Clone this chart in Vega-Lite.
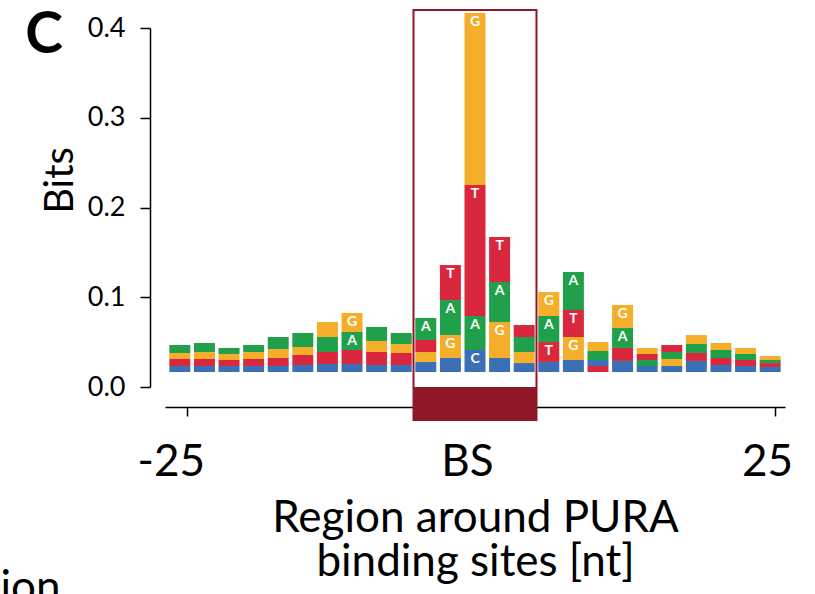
{
  "$schema": "https://vega.github.io/schema/vega-lite/v6.json",
  "width": 620,
  "height": 359,
  "autosize": {"type": "none"},
  "padding": {"left": 165, "top": 28, "right": 30, "bottom": 207},
  "config": {"font": "Lato", "view": {"stroke": null}},
  "datasets": {
    "logo": [
      {"p":1,"b":"C","lo":0.0167,"hi":0.0234},{"p":1,"b":"T","lo":0.0234,"hi":0.0312},{"p":1,"b":"G","lo":0.0312,"hi":0.0379},{"p":1,"b":"A","lo":0.0379,"hi":0.0468},
      {"p":2,"b":"C","lo":0.0167,"hi":0.0234},{"p":2,"b":"T","lo":0.0234,"hi":0.0312},{"p":2,"b":"G","lo":0.0312,"hi":0.0390},{"p":2,"b":"A","lo":0.0390,"hi":0.0490},
      {"p":3,"b":"C","lo":0.0167,"hi":0.0234},{"p":3,"b":"T","lo":0.0234,"hi":0.0301},{"p":3,"b":"G","lo":0.0301,"hi":0.0368},{"p":3,"b":"A","lo":0.0368,"hi":0.0435},
      {"p":4,"b":"C","lo":0.0167,"hi":0.0234},{"p":4,"b":"T","lo":0.0234,"hi":0.0312},{"p":4,"b":"G","lo":0.0312,"hi":0.0390},{"p":4,"b":"A","lo":0.0390,"hi":0.0468},
      {"p":5,"b":"C","lo":0.0167,"hi":0.0234},{"p":5,"b":"T","lo":0.0234,"hi":0.0323},{"p":5,"b":"G","lo":0.0323,"hi":0.0423},{"p":5,"b":"A","lo":0.0423,"hi":0.0557},
      {"p":6,"b":"C","lo":0.0167,"hi":0.0245},{"p":6,"b":"T","lo":0.0245,"hi":0.0357},{"p":6,"b":"G","lo":0.0357,"hi":0.0446},{"p":6,"b":"A","lo":0.0446,"hi":0.0602},
      {"p":7,"b":"C","lo":0.0167,"hi":0.0256},{"p":7,"b":"T","lo":0.0256,"hi":0.0390},{"p":7,"b":"A","lo":0.0390,"hi":0.0557},{"p":7,"b":"G","lo":0.0557,"hi":0.0724},
      {"p":8,"b":"C","lo":0.0167,"hi":0.0256},{"p":8,"b":"T","lo":0.0256,"hi":0.0412},{"p":8,"b":"A","lo":0.0412,"hi":0.0613},{"p":8,"b":"G","lo":0.0613,"hi":0.0825},
      {"p":9,"b":"C","lo":0.0167,"hi":0.0245},{"p":9,"b":"T","lo":0.0245,"hi":0.0390},{"p":9,"b":"G","lo":0.0390,"hi":0.0513},{"p":9,"b":"A","lo":0.0513,"hi":0.0669},
      {"p":10,"b":"C","lo":0.0167,"hi":0.0245},{"p":10,"b":"T","lo":0.0245,"hi":0.0379},{"p":10,"b":"G","lo":0.0379,"hi":0.0479},{"p":10,"b":"A","lo":0.0479,"hi":0.0602},
      {"p":11,"b":"C","lo":0.0167,"hi":0.0279},{"p":11,"b":"G","lo":0.0279,"hi":0.0390},{"p":11,"b":"T","lo":0.0390,"hi":0.0524},{"p":11,"b":"A","lo":0.0524,"hi":0.0769},
      {"p":12,"b":"C","lo":0.0167,"hi":0.0323},{"p":12,"b":"G","lo":0.0323,"hi":0.0579},{"p":12,"b":"A","lo":0.0579,"hi":0.0969},{"p":12,"b":"T","lo":0.0969,"hi":0.1359},
      {"p":13,"b":"C","lo":0.0167,"hi":0.0412},{"p":13,"b":"A","lo":0.0412,"hi":0.0791},{"p":13,"b":"T","lo":0.0791,"hi":0.2251},{"p":13,"b":"G","lo":0.2251,"hi":0.4167},
      {"p":14,"b":"C","lo":0.0167,"hi":0.0323},{"p":14,"b":"G","lo":0.0323,"hi":0.0724},{"p":14,"b":"A","lo":0.0724,"hi":0.1170},{"p":14,"b":"T","lo":0.1170,"hi":0.1671},
      {"p":15,"b":"C","lo":0.0167,"hi":0.0267},{"p":15,"b":"G","lo":0.0267,"hi":0.0390},{"p":15,"b":"A","lo":0.0390,"hi":0.0557},{"p":15,"b":"T","lo":0.0557,"hi":0.0691},
      {"p":16,"b":"C","lo":0.0167,"hi":0.0279},{"p":16,"b":"T","lo":0.0279,"hi":0.0501},{"p":16,"b":"A","lo":0.0501,"hi":0.0791},{"p":16,"b":"G","lo":0.0791,"hi":0.1058},
      {"p":17,"b":"C","lo":0.0167,"hi":0.0301},{"p":17,"b":"G","lo":0.0301,"hi":0.0557},{"p":17,"b":"T","lo":0.0557,"hi":0.0858},{"p":17,"b":"A","lo":0.0858,"hi":0.1281},
      {"p":18,"b":"T","lo":0.0167,"hi":0.0234},{"p":18,"b":"C","lo":0.0234,"hi":0.0301},{"p":18,"b":"A","lo":0.0301,"hi":0.0401},{"p":18,"b":"G","lo":0.0401,"hi":0.0501},
      {"p":19,"b":"C","lo":0.0167,"hi":0.0290},{"p":19,"b":"T","lo":0.0290,"hi":0.0435},{"p":19,"b":"A","lo":0.0435,"hi":0.0657},{"p":19,"b":"G","lo":0.0657,"hi":0.0914},
      {"p":20,"b":"C","lo":0.0167,"hi":0.0234},{"p":20,"b":"A","lo":0.0234,"hi":0.0301},{"p":20,"b":"T","lo":0.0301,"hi":0.0368},{"p":20,"b":"G","lo":0.0368,"hi":0.0435},
      {"p":21,"b":"C","lo":0.0167,"hi":0.0234},{"p":21,"b":"G","lo":0.0234,"hi":0.0312},{"p":21,"b":"A","lo":0.0312,"hi":0.0390},{"p":21,"b":"T","lo":0.0390,"hi":0.0468},
      {"p":22,"b":"C","lo":0.0167,"hi":0.0290},{"p":22,"b":"T","lo":0.0290,"hi":0.0379},{"p":22,"b":"A","lo":0.0379,"hi":0.0479},{"p":22,"b":"G","lo":0.0479,"hi":0.0579},
      {"p":23,"b":"C","lo":0.0167,"hi":0.0245},{"p":23,"b":"T","lo":0.0245,"hi":0.0323},{"p":23,"b":"A","lo":0.0323,"hi":0.0412},{"p":23,"b":"G","lo":0.0412,"hi":0.0490},
      {"p":24,"b":"C","lo":0.0167,"hi":0.0234},{"p":24,"b":"T","lo":0.0234,"hi":0.0301},{"p":24,"b":"A","lo":0.0301,"hi":0.0368},{"p":24,"b":"G","lo":0.0368,"hi":0.0435},
      {"p":25,"b":"C","lo":0.0167,"hi":0.0223},{"p":25,"b":"T","lo":0.0223,"hi":0.0267},{"p":25,"b":"A","lo":0.0267,"hi":0.0301},{"p":25,"b":"G","lo":0.0301,"hi":0.0345}
    ],
    "box": [{"start": 10.5, "end": 15.5, "zero": 0, "bottom": -0.0368, "top": 0.42}],
    "labels": [
      {"t": "C", "x": -4.52, "y": 0.3721, "kind": "panel"},
      {"t": "ion", "x": -6.29, "y": -0.2396, "kind": "fragment"}
    ]
  },
  "layer": [
    {
      "data": {"name": "logo"},
      "mark": {"type": "bar", "size": 21},
      "encoding": {
        "x": {
          "field": "p", "type": "quantitative",
          "scale": {"domain": [0.6, 25.4], "nice": false, "zero": false},
          "axis": {
            "title": ["Region around PURA", "binding sites [nt]"],
            "values": [1.28, 13, 25.2],
            "labelExpr": "datum.value < 5 ? '-25' : (datum.value > 20 ? '25' : 'BS')",
            "offset": 20, "tickSize": 9, "tickWidth": 1.5, "domainWidth": 1.5,
            "domainColor": "black", "tickColor": "black", "labelColor": "black", "titleColor": "black",
            "labelFontSize": 44, "labelPadding": 24,
            "labelOffset": {"condition": {"test": "datum.value < 5", "value": -16}, "value": -8},
            "labelFlush": false,
            "titleFontSize": 44, "titleFontWeight": "normal", "titleLineHeight": 44, "titlePadding": 12,
            "grid": false
          }
        },
        "y": {
          "field": "lo", "type": "quantitative",
          "scale": {"domain": [0, 0.4], "nice": false},
          "axis": {
            "title": "Bits",
            "values": [0, 0.1, 0.2, 0.3, 0.4],
            "format": ".1f",
            "offset": 15, "tickSize": 10, "tickWidth": 1.5, "domainWidth": 1.5,
            "domainColor": "black", "tickColor": "black", "labelColor": "black", "titleColor": "black",
            "labelFontSize": 27, "labelPadding": 15, "labelFlush": false,
            "titleFontSize": 40, "titleFontWeight": "normal", "titleX": -70, "titleY": 152,
            "grid": false
          }
        },
        "y2": {"field": "hi"},
        "color": {
          "field": "b", "type": "nominal",
          "scale": {"domain": ["A", "C", "G", "T"], "range": ["#21a04b", "#3b6fb6", "#f4ae2a", "#d9283e"]},
          "legend": null
        }
      }
    },
    {
      "data": {"name": "logo"},
      "transform": [{"filter": "datum.hi - datum.lo >= 0.02"}],
      "mark": {"type": "text", "baseline": "top", "dy": 2, "fontSize": 14, "fontWeight": "bold", "color": "white"},
      "encoding": {
        "x": {"field": "p", "type": "quantitative", "scale": {"domain": [0.6, 25.4], "nice": false, "zero": false}},
        "y": {"field": "hi", "type": "quantitative", "scale": {"domain": [0, 0.4], "nice": false}},
        "text": {"field": "b"}
      }
    },
    {
      "data": {"name": "box"},
      "mark": {"type": "rect", "color": "#8f1828"},
      "encoding": {
        "x": {"field": "start", "type": "quantitative", "scale": {"domain": [0.6, 25.4], "nice": false, "zero": false}},
        "x2": {"field": "end"},
        "y": {"field": "zero", "type": "quantitative", "scale": {"domain": [0, 0.4], "nice": false}},
        "y2": {"field": "bottom"}
      }
    },
    {
      "data": {"name": "box"},
      "mark": {"type": "rect", "fill": null, "filled": false, "stroke": "#8f1828", "strokeWidth": 2},
      "encoding": {
        "x": {"field": "start", "type": "quantitative", "scale": {"domain": [0.6, 25.4], "nice": false, "zero": false}},
        "x2": {"field": "end"},
        "y": {"field": "bottom", "type": "quantitative", "scale": {"domain": [0, 0.4], "nice": false}},
        "y2": {"field": "top"}
      }
    },
    {
      "data": {"name": "labels"},
      "transform": [{"filter": "datum.kind == 'panel'"}],
      "mark": {"type": "text", "align": "center", "baseline": "alphabetic", "fontSize": 57, "fontWeight": "bold", "color": "black"},
      "encoding": {
        "x": {"field": "x", "type": "quantitative", "scale": {"domain": [0.6, 25.4], "nice": false, "zero": false}},
        "y": {"field": "y", "type": "quantitative", "scale": {"domain": [0, 0.4], "nice": false}},
        "text": {"field": "t"}
      }
    },
    {
      "data": {"name": "labels"},
      "transform": [{"filter": "datum.kind == 'fragment'"}],
      "mark": {"type": "text", "align": "left", "baseline": "alphabetic", "fontSize": 44, "color": "black"},
      "encoding": {
        "x": {"field": "x", "type": "quantitative", "scale": {"domain": [0.6, 25.4], "nice": false, "zero": false}},
        "y": {"field": "y", "type": "quantitative", "scale": {"domain": [0, 0.4], "nice": false}},
        "text": {"field": "t"}
      }
    }
  ]
}
